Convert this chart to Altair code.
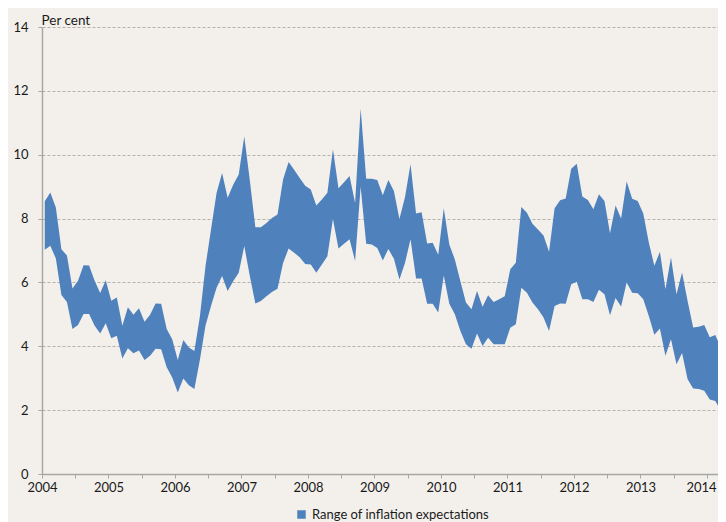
import altair as alt
import pandas as pd

# Monthly range of inflation expectations (per cent), Jan 2004 onwards
upper = [8.54, 8.82, 8.35, 7.04, 6.84, 5.81, 6.05, 6.54, 6.53, 6.05, 5.67, 6.07,
         5.43, 5.53, 4.64, 5.22, 4.99, 5.19, 4.77, 4.99, 5.34, 5.33, 4.54, 4.22,
         3.57, 4.20, 3.96, 3.85, 4.95, 6.51, 7.66, 8.80, 9.43, 8.65, 9.06, 9.38,
         10.57, 9.20, 7.73, 7.73, 7.86, 8.02, 8.13, 9.22, 9.77, 9.53, 9.27, 9.03,
         8.91, 8.41, 8.60, 8.81, 10.17, 8.95, 9.14, 9.33, 8.49, 11.45, 9.25, 9.25,
         9.21, 8.73, 9.21, 8.86, 7.99, 8.67, 9.70, 8.16, 8.20, 7.22, 7.24, 6.87,
         8.32, 7.19, 6.72, 6.04, 5.37, 5.16, 5.73, 5.24, 5.60, 5.39, 5.47, 5.57,
         6.41, 6.62, 8.36, 8.18, 7.84, 7.66, 7.47, 6.96, 8.32, 8.57, 8.63, 9.56,
         9.72, 8.69, 8.58, 8.29, 8.76, 8.55, 7.54, 8.41, 8.00, 9.16, 8.62, 8.55,
         8.16, 7.25, 6.52, 6.96, 5.79, 6.78, 5.63, 6.31, 5.42, 4.59, 4.61, 4.67,
         4.28, 4.35, 3.96, 3.89]
lower = [7.02, 7.15, 6.75, 5.61, 5.39, 4.54, 4.67, 5.01, 5.01, 4.64, 4.40, 4.72,
         4.25, 4.33, 3.62, 3.94, 3.78, 3.87, 3.57, 3.70, 3.92, 3.91, 3.34, 3.02,
         2.55, 2.99, 2.78, 2.66, 3.59, 4.64, 5.26, 5.83, 6.20, 5.73, 6.04, 6.30,
         7.14, 6.20, 5.34, 5.42, 5.57, 5.70, 5.80, 6.61, 7.06, 6.93, 6.79, 6.58,
         6.56, 6.30, 6.56, 6.82, 7.99, 7.06, 7.21, 7.35, 6.67, 9.00, 7.21, 7.19,
         7.08, 6.69, 7.05, 6.74, 6.09, 6.61, 7.35, 6.12, 6.12, 5.33, 5.33, 5.06,
         6.22, 5.33, 5.00, 4.48, 4.06, 3.92, 4.40, 4.01, 4.27, 4.06, 4.06, 4.06,
         4.58, 4.69, 5.83, 5.68, 5.37, 5.16, 4.90, 4.48, 5.26, 5.34, 5.33, 5.94,
         6.02, 5.47, 5.47, 5.39, 5.77, 5.63, 4.97, 5.51, 5.25, 6.00, 5.68, 5.66,
         5.47, 4.95, 4.36, 4.56, 3.70, 4.22, 3.44, 3.79, 2.97, 2.68, 2.66, 2.61,
         2.33, 2.29, 1.98, 1.91]
start_year = 2004
series_name = "Range of inflation expectations"
x_ticks = [2004 + 0.5 * k for k in range(21)]
y_ticks = [0, 2, 4, 6, 8, 10, 12, 14]

dates = [start_year + (m + 0.5) / 12 for m in range(len(upper))]
df = pd.DataFrame({"date": dates, "upper": upper, "lower": lower,
                   "series": [series_name] * len(upper)})

FONT = "Lato"
TXT = "#1a1a1a"
AX = "#a6a6a6"

PLOT_W = 676
X_END = 2004 + PLOT_W / 66.5

chart = alt.Chart(df).mark_area(clip=True, opacity=1, interpolate="linear").encode(
    x=alt.X("date:Q",
            scale=alt.Scale(domain=[2004, X_END], nice=False, zero=False),
            axis=alt.Axis(values=x_ticks,
                          labelExpr="datum.value % 1 == 0 ? format(datum.value, 'd') : ''",
                          labelOffset={"condition": {"test": "datum.value >= 2014", "value": -6},
                                       "value": 0},
                          grid=False, title=None, domainColor=AX, domainWidth=1.5,
                          tickColor=AX, tickSize=4, tickWidth=1,
                          labelFont=FONT, labelFontSize=13, labelColor=TXT,
                          labelPadding=3, labelFlush=False, labelOverlap=False)),
    y=alt.Y("upper:Q",
            scale=alt.Scale(domain=[0, 14], nice=False),
            axis=alt.Axis(values=y_ticks, format="d",
                          title="Per cent", titleAngle=0, titleX=-1, titleY=-3,
                          titleAlign="left", titleBaseline="alphabetic",
                          titleFont=FONT, titleFontSize=13.5, titleFontWeight="normal",
                          titleColor=TXT,
                          grid=True, gridDash=[3, 2], gridColor="#b4b0ad", gridWidth=1,
                          domainColor=AX, domainWidth=1.5,
                          tickColor=AX, tickSize=4, tickWidth=1,
                          labelFont=FONT, labelFontSize=13, labelColor=TXT,
                          labelPadding=10)),
    y2="lower:Q",
    color=alt.Color("series:N",
                    scale=alt.Scale(range=["#4f81bd"]),
                    legend=alt.Legend(title=None, orient="none", legendX=253, legendY=481,
                                      symbolType="square", symbolSize=72,
                                      symbolStrokeWidth=0, padding=0,
                                      labelFont=FONT, labelFontSize=13, labelLimit=400,
                                      labelColor=TXT, labelOffset=4)),
).properties(
    width=PLOT_W, height=447,
    background="#f3f0ec",
    padding={"left": 34, "top": 19, "right": 0, "bottom": 48},
    autosize=alt.AutoSizeParams(type="none"),
).configure_view(stroke=None)

chart.save("out.html", embed_options={"renderer": "svg", "actions": False})
